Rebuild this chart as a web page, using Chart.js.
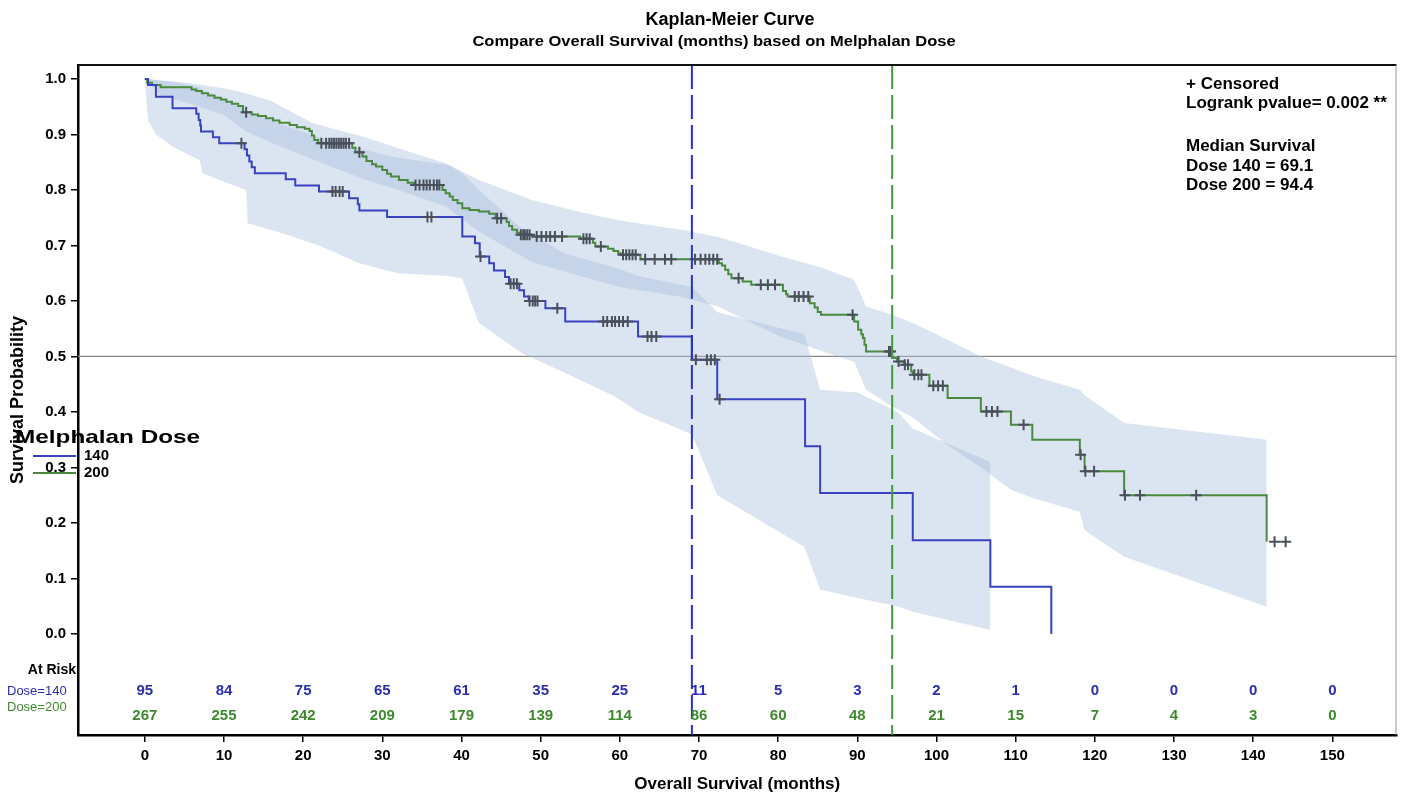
<!DOCTYPE html>
<html><head><meta charset="utf-8">
<script src="https://cdn.jsdelivr.net/npm/chart.js@4.4.1/dist/chart.umd.min.js"></script>
<style>html,body{margin:0;padding:0;background:#fff}#wrap{width:1404px;height:795px;position:relative}</style>
</head><body><div id="wrap"><canvas id="c"></canvas></div>
<script>
// ---------- data ----------
const groups = ['140', '200'];
const groupColors = ['#3a42c4', '#4a8a3e'];
const medians = [69.1, 94.4];
const xTicks = [0,10,20,30,40,50,60,70,80,90,100,110,120,130,140,150];
const yTicks = [0,0.1,0.2,0.3,0.4,0.5,0.6,0.7,0.8,0.9,1.0];
const riskTimes = [0,10,20,30,40,50,60,70,80,90,100,110,120,130,140,150];
const risk140 = [95,84,75,65,61,35,25,11,5,3,2,1,0,0,0,0];
const risk200 = [267,255,242,209,179,139,114,86,60,48,21,15,7,4,3,0];

// Kaplan-Meier steps (time, survival after the step)
const km140T = [0,0.4,1.4,3.5,6.5,6.8,7.0,7.1,8.6,9.4,12.6,12.9,13.2,13.5,13.9,17.8,19.0,22.0,25.8,26.9,27.1,30.6,40.1,41.7,42.3,43.5,44.1,45.5,46.0,47.3,47.9,48.5,50.6,53.1,62.3,69.1,72.3,83.4,85.3,97.0,106.8,114.5];
const km140S = [1.0,0.989,0.968,0.947,0.937,0.926,0.916,0.905,0.895,0.884,0.873,0.862,0.851,0.841,0.830,0.819,0.808,0.797,0.785,0.774,0.763,0.751,0.716,0.704,0.680,0.668,0.655,0.643,0.631,0.619,0.608,0.600,0.587,0.563,0.536,0.494,0.423,0.338,0.254,0.169,0.085,0.0];
const km200T = [0,0.3,0.9,2.0,5.9,6.5,7.2,8.0,8.8,9.6,10.3,11.0,11.8,12.4,13.5,14.3,15.3,16.2,17.0,18.3,19.2,20.2,20.8,21.1,21.4,21.9,26.2,26.6,27.5,28.0,28.7,29.2,30.0,30.6,31.1,32.1,33.2,34.0,37.6,38.0,38.5,38.9,39.5,40.1,41.0,42.2,43.5,44.3,45.7,46.0,46.4,47.0,47.3,49.0,55.0,56.6,56.9,58.5,59.2,59.8,60.1,62.6,72.5,72.9,73.3,73.7,74.1,75.5,76.6,80.6,81.0,81.2,84.0,84.6,85.0,85.4,89.6,90.1,90.5,90.7,90.9,91.1,94.4,95.0,95.9,96.8,97.0,99.1,101.4,105.6,109.4,112.1,118.1,118.7,123.7,141.7];
const km200S = [1.0,0.993,0.989,0.985,0.981,0.978,0.974,0.970,0.966,0.963,0.959,0.955,0.951,0.940,0.936,0.933,0.929,0.925,0.921,0.917,0.913,0.910,0.906,0.898,0.890,0.884,0.876,0.868,0.860,0.852,0.846,0.842,0.836,0.829,0.824,0.818,0.813,0.809,0.800,0.794,0.788,0.782,0.776,0.767,0.764,0.761,0.757,0.749,0.742,0.735,0.728,0.723,0.719,0.716,0.712,0.705,0.698,0.694,0.690,0.686,0.683,0.675,0.668,0.664,0.656,0.648,0.641,0.635,0.629,0.618,0.612,0.608,0.596,0.588,0.580,0.575,0.563,0.548,0.540,0.533,0.521,0.509,0.497,0.491,0.485,0.473,0.467,0.447,0.425,0.401,0.377,0.350,0.323,0.293,0.250,0.166];

// censored observations (time, survival)
const cens140T = [12.2,23.7,24.1,24.6,25.0,35.7,36.2,42.4,46.2,46.6,47.0,48.6,49.0,49.3,49.6,52.1,57.9,58.4,59.0,59.4,59.9,60.4,61.0,63.5,64.0,64.6,69.6,71.0,71.5,72.0,72.6];
const cens140S = [0.884,0.797,0.797,0.797,0.797,0.751,0.751,0.680,0.631,0.631,0.631,0.600,0.600,0.600,0.600,0.587,0.563,0.563,0.563,0.563,0.563,0.563,0.563,0.536,0.536,0.536,0.494,0.494,0.494,0.494,0.423];
const cens200T = [12.8,22.3,22.9,23.3,23.6,23.9,24.2,24.5,24.8,25.1,25.4,25.8,27.1,34.2,34.7,35.2,35.6,36.0,36.5,36.9,37.2,44.5,45.0,47.5,47.8,48.0,48.3,48.6,49.5,50.1,50.7,51.2,51.8,52.7,55.4,55.8,56.2,57.6,60.4,60.8,61.2,61.6,62.0,63.2,64.4,65.7,66.5,69.5,70.2,70.8,71.3,71.8,72.3,75.0,77.8,78.7,79.6,82.1,82.6,83.2,83.8,89.4,94.0,94.2,95.2,96.0,96.4,97.2,97.7,98.1,99.6,100.2,100.8,106.3,107.0,107.7,111.0,118.2,118.8,119.9,123.8,125.7,132.8,142.7,144.1];
const cens200S = [0.940,0.884,0.884,0.884,0.884,0.884,0.884,0.884,0.884,0.884,0.884,0.884,0.868,0.809,0.809,0.809,0.809,0.809,0.809,0.809,0.809,0.749,0.749,0.719,0.719,0.719,0.719,0.719,0.716,0.716,0.716,0.716,0.716,0.716,0.712,0.712,0.712,0.698,0.683,0.683,0.683,0.683,0.683,0.675,0.675,0.675,0.675,0.675,0.675,0.675,0.675,0.675,0.675,0.641,0.629,0.629,0.629,0.608,0.608,0.608,0.608,0.575,0.509,0.509,0.491,0.485,0.485,0.467,0.467,0.467,0.447,0.447,0.447,0.401,0.401,0.401,0.377,0.323,0.293,0.293,0.250,0.250,0.250,0.166,0.166];

// confidence bands
const band140T = [0,0.4,1.4,3.5,6.9,7.3,9.4,12.8,13.0,17.8,22.0,27.1,30.6,32.0,38.4,40.1,42.2,47.6,53.1,59.4,62.3,69.1,72.3,83.3,85.3,90.0,95.1,97.0,106.8];
const band140Up = [1.0,1.0,0.998,0.995,0.985,0.98,0.968,0.945,0.94,0.915,0.895,0.875,0.862,0.858,0.845,0.83,0.80,0.73,0.685,0.66,0.645,0.625,0.58,0.54,0.44,0.435,0.40,0.37,0.31];
const band140Lo = [1.0,0.926,0.90,0.878,0.854,0.83,0.818,0.80,0.74,0.72,0.70,0.668,0.655,0.65,0.645,0.64,0.56,0.506,0.47,0.428,0.40,0.36,0.25,0.157,0.08,0.065,0.05,0.04,0.007];
const band200T = [0,2.0,5.7,10.0,12.8,16.0,21.2,27.5,32.0,38.0,42.2,48.9,55.0,60.0,67.8,72.4,76.0,80.4,85.4,89.6,91.1,94.4,97.0,101.4,105.6,109.4,112.1,118.1,118.7,123.7,141.7];
const band200Up = [1.0,0.997,0.992,0.983,0.974,0.96,0.92,0.896,0.875,0.848,0.818,0.782,0.76,0.745,0.728,0.715,0.70,0.68,0.66,0.638,0.59,0.575,0.56,0.53,0.50,0.48,0.465,0.44,0.43,0.38,0.35];
const band200Lo = [1.0,0.97,0.955,0.935,0.905,0.885,0.855,0.82,0.80,0.77,0.725,0.67,0.645,0.625,0.607,0.59,0.565,0.535,0.51,0.49,0.44,0.41,0.39,0.34,0.30,0.26,0.245,0.22,0.187,0.139,0.049];

// ---------- helpers ----------
const FONT = "'Liberation Sans', Arial, sans-serif";
const pts = (T, S) => T.map((t, i) => ({x: t, y: S[i]}));
const bandFill = 'rgba(170,190,222,0.42)';

const datasets = [
  {data: pts(band140T, band140Up), showLine: true, borderWidth: 0, borderColor: 'rgba(0,0,0,0)', pointRadius: 0, fill: false, order: 10},
  {data: pts(band140T, band140Lo), showLine: true, borderWidth: 0, borderColor: 'rgba(0,0,0,0)', pointRadius: 0, fill: '-1', backgroundColor: bandFill, order: 10},
  {data: pts(band200T, band200Up), showLine: true, borderWidth: 0, borderColor: 'rgba(0,0,0,0)', pointRadius: 0, fill: false, order: 10},
  {data: pts(band200T, band200Lo), showLine: true, borderWidth: 0, borderColor: 'rgba(0,0,0,0)', pointRadius: 0, fill: '-1', backgroundColor: bandFill, order: 10},
  {data: pts(km140T, km140S), showLine: true, stepped: 'before', borderColor: groupColors[0], borderWidth: 2, pointRadius: 0, fill: false, order: 2},
  {data: pts(km200T, km200S), showLine: true, stepped: 'before', borderColor: groupColors[1], borderWidth: 2, pointRadius: 0, fill: false, order: 2},
  {data: pts(cens140T, cens140S), showLine: false, pointStyle: 'cross', pointRadius: 5.5, borderWidth: 2, borderColor: '#4a505b', order: 1},
  {data: pts(cens200T, cens200S), showLine: false, pointStyle: 'cross', pointRadius: 5.5, borderWidth: 2, borderColor: '#4a505b', order: 1}
];

function stretchText(ctx, text, x, y, sx) {
  ctx.save();
  ctx.translate(x, y); ctx.scale(sx, 1);
  ctx.fillText(text, 0, 0);
  ctx.restore();
}

const decor = {
  id: 'decor',
  beforeDatasetsDraw(chart) {
    const {ctx, chartArea: a, scales: {y}} = chart;
    ctx.save();
    ctx.strokeStyle = '#8a8a8a'; ctx.lineWidth = 1.2;
    const yp = y.getPixelForValue(0.5);
    ctx.beginPath(); ctx.moveTo(a.left, yp); ctx.lineTo(a.right, yp); ctx.stroke();
    ctx.restore();
  },
  afterDatasetsDraw(chart) {
    const {ctx, chartArea: a, scales: {x, y}} = chart;
    ctx.save();
    // median lines
    medians.forEach((m, i) => {
      const xp = x.getPixelForValue(m);
      ctx.strokeStyle = i === 0 ? '#2a33c0' : '#3f9a3a';
      ctx.lineWidth = 2; ctx.setLineDash([24, 6]);
      ctx.beginPath(); ctx.moveTo(xp, a.top); ctx.lineTo(xp, a.bottom); ctx.stroke();
    });
    ctx.setLineDash([]);
    // frame top and right
    ctx.strokeStyle = '#111'; ctx.lineWidth = 2;
    ctx.beginPath(); ctx.moveTo(a.left, a.top); ctx.lineTo(a.right, a.top); ctx.stroke();
    ctx.strokeStyle = '#999'; ctx.lineWidth = 1;
    ctx.beginPath(); ctx.moveTo(a.right - 0.5, a.top); ctx.lineTo(a.right - 0.5, a.bottom); ctx.stroke();
    // at risk table
    ctx.textAlign = 'center'; ctx.textBaseline = 'middle';
    ctx.font = `bold 15px ${FONT}`;
    const r1 = y.getPixelForValue(-0.103), r2 = y.getPixelForValue(-0.148);
    riskTimes.forEach((t, i) => {
      const xp = x.getPixelForValue(t);
      ctx.fillStyle = '#2a2fb0'; ctx.fillText(String(risk140[i]), xp, r1);
      ctx.fillStyle = '#3d8a2e'; ctx.fillText(String(risk200[i]), xp, r2);
    });
    ctx.textAlign = 'right'; ctx.fillStyle = '#000';
    ctx.font = `bold 14px ${FONT}`;
    ctx.fillText('At Risk', a.left - 2, y.getPixelForValue(-0.066));
    ctx.textAlign = 'left'; ctx.font = `13px ${FONT}`;
    ctx.fillStyle = '#2a2fb0'; ctx.fillText('Dose=' + groups[0], 7, r1);
    ctx.fillStyle = '#3d8a2e'; ctx.fillText('Dose=' + groups[1], 7, y.getPixelForValue(-0.133));
    // top-right annotation
    ctx.fillStyle = '#000'; ctx.font = `bold 17px ${FONT}`;
    const tx = 1186;
    ctx.fillText('+ Censored', tx, 84);
    ctx.fillText('Logrank pvalue= 0.002 **', tx, 103);
    ctx.fillText('Median Survival', tx, 146);
    ctx.fillText('Dose ' + groups[0] + ' = ' + medians[0].toFixed(1), tx, 166);
    ctx.fillText('Dose ' + groups[1] + ' = ' + medians[1].toFixed(1), tx, 185);
    // legend
    ctx.font = `bold 19px ${FONT}`;
    stretchText(ctx, 'Melphalan Dose', 15, 438, 1.28);
    ctx.font = `bold 15px ${FONT}`;
    groups.forEach((g, i) => {
      const yy = 456 + i * 17;
      ctx.strokeStyle = groupColors[i]; ctx.lineWidth = 2;
      ctx.beginPath(); ctx.moveTo(33, yy); ctx.lineTo(76, yy); ctx.stroke();
      ctx.fillStyle = '#000'; ctx.fillText(g, 84, yy);
    });
    // titles
    ctx.textAlign = 'center';
    ctx.font = `bold 18px ${FONT}`;
    ctx.fillText('Kaplan-Meier Curve', 730, 20);
    ctx.font = `bold 15px ${FONT}`;
    stretchText(ctx, 'Compare Overall Survival (months) based on Melphalan Dose', 714, 42, 1.1);
    ctx.restore();
  }
};

new Chart(document.getElementById('c'), {
  type: 'scatter',
  data: {datasets},
  options: {
    responsive: true, maintainAspectRatio: false, animation: false,
    layout: {padding: {top: 65, right: 4, left: 0, bottom: 0}},
    plugins: {legend: {display: false}, tooltip: {enabled: false}, title: {display: false}},
    elements: {line: {tension: 0}},
    scales: {
      x: {
        type: 'linear', min: -8.44, max: 158.1,
        afterBuildTicks: s => { s.ticks = xTicks.map(v => ({value: v})); },
        afterFit: s => { s.height = 60; },
        ticks: {color: '#000', font: {family: FONT, size: 15, weight: 'bold'}, padding: 5, maxRotation: 0, autoSkip: false},
        grid: {display: true, drawOnChartArea: false, drawTicks: true, tickLength: 7, color: '#000', lineWidth: 1.5},
        border: {display: true, color: '#000', width: 2.5},
        title: {display: true, text: 'Overall Survival (months)', color: '#000', font: {family: FONT, size: 17, weight: 'bold'}, padding: {top: 0, bottom: 0}}
      },
      y: {
        type: 'linear', min: -0.182, max: 1.025,
        afterBuildTicks: s => { s.ticks = yTicks.map(v => ({value: v})); },
        afterFit: s => { s.width = 78; },
        ticks: {color: '#000', font: {family: FONT, size: 15, weight: 'bold'}, padding: 5, callback: v => Number(v).toFixed(1)},
        grid: {display: true, drawOnChartArea: false, drawTicks: true, tickLength: 7, color: '#000', lineWidth: 1.5},
        border: {display: true, color: '#000', width: 2.5},
        title: {display: true, text: 'Survival Probability', color: '#000', font: {family: FONT, size: 18, weight: 'bold'}, padding: {top: 7, bottom: 0}}
      }
    }
  },
  plugins: [decor]
});
</script>
</body></html>
